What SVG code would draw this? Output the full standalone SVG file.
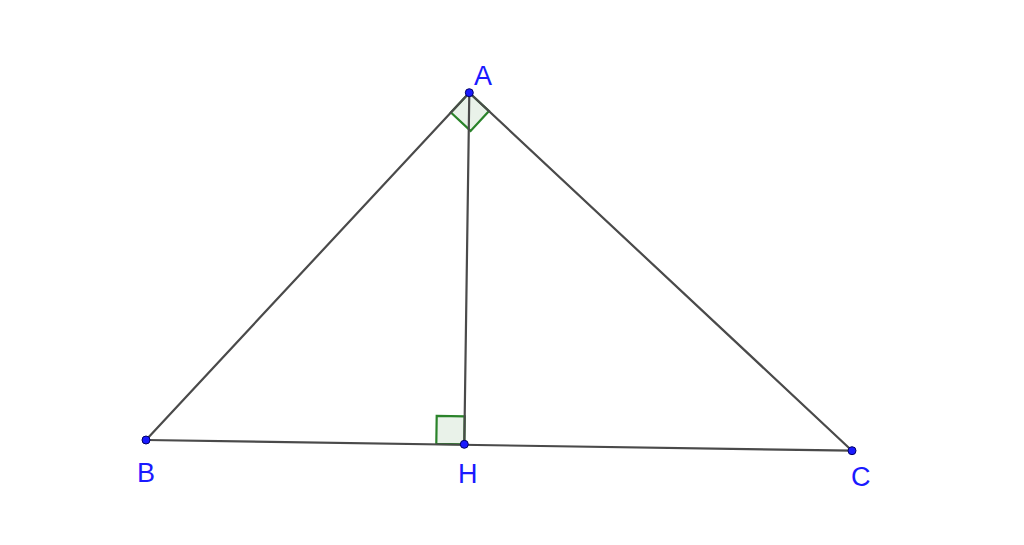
<svg xmlns="http://www.w3.org/2000/svg" width="1024" height="545" viewBox="0 0 1024 545">
<style>
.seg{stroke:#4a4a4a;stroke-width:2.2;fill:none;stroke-linecap:round}
.ang{stroke:#2a832a;stroke-width:2.2;fill:#2a832a;fill-opacity:0.1;stroke-linejoin:miter}
.pt{fill:#1a1aff;stroke:#000066;stroke-width:1}
.lbl{font-family:"Liberation Sans",Arial,sans-serif;font-size:27px;fill:#1a1aff}
</style>
<rect width="1024" height="545" fill="#ffffff"/>
<g id="angles">
<polygon class="ang" points="469.3,92.7 450.9,112.5 470.6,130.9 489.0,111.1"/>
<polygon class="ang" points="464.3,444.3 436.3,443.9 436.7,415.9 464.7,416.3"/>
</g>
<g id="connectors">
<line class="seg" x1="469.3" y1="92.7" x2="146" y2="440"/>
<line class="seg" x1="469.3" y1="92.7" x2="852" y2="450.7"/>
<line class="seg" x1="146" y1="440" x2="852" y2="450.7"/>
<line class="seg" x1="469.3" y1="92.7" x2="464.3" y2="444.3"/>
</g>
<g id="A"><circle class="pt" cx="469.3" cy="92.7" r="4"/><text class="lbl" x="474" y="85">A</text></g>
<g id="B"><circle class="pt" cx="146" cy="440" r="4"/><text class="lbl" x="137" y="482">B</text></g>
<g id="H"><circle class="pt" cx="464.3" cy="444.3" r="4"/><text class="lbl" x="458" y="483">H</text></g>
<g id="C"><circle class="pt" cx="852" cy="450.7" r="4"/><text class="lbl" x="851" y="486">C</text></g>
</svg>
